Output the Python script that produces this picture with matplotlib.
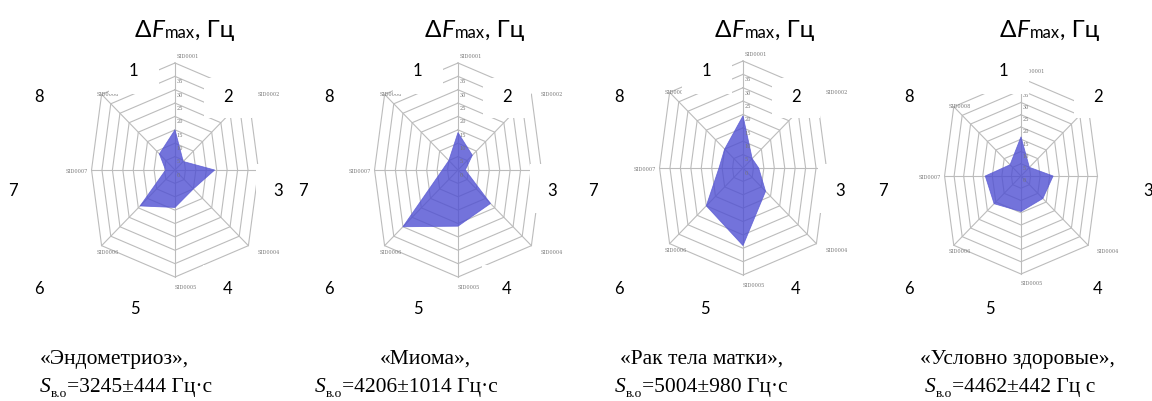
import numpy as np
import matplotlib
matplotlib.use("Agg")
import matplotlib.pyplot as plt
from matplotlib.patches import Rectangle

# ---------------- data ----------------
spoke_names = ["SID0001", "SID0002", "SID0003", "SID0004",
               "SID0005", "SID0006", "SID0007", "SID0008"]
spoke_numbers = ["1", "2", "3", "4", "5", "6", "7", "8"]
ring_values = [5, 10, 15, 20, 25, 30, 35, 40]
tick_labels = ["0", "5", "10", "15", "20", "25", "30", "35"]

group_names = ["«Эндометриоз»,", "«Миома»,", "«Рак тела матки»,", "«Условно здоровые»,"]
area_texts = ["=3245±444 Гц·с", "=4206±1014 Гц·с", "=5004±980 Гц·с", "=4462±442 Гц с"]

endometriosis = [15, 4.5, 19, 10, 14, 19, 4.5, 8.5]
myoma = [14, 7.8, 3.5, 17.7, 21, 30, 7.5, 5]
uterine_cancer = [19.5, 5, 7.5, 12.3, 29, 20, 11.5, 10]
healthy = [16, 5, 16.8, 13, 14.5, 16, 18.7, 6.5]
series = [endometriosis, myoma, uterine_cancer, healthy]

# ---------------- layout ----------------
W, H, DPI = 1152, 401, 100
fig = plt.figure(figsize=(W / DPI, H / DPI), dpi=DPI)
fig.patch.set_facecolor("white")

# panel centres (px from left, px from top) and px per value unit
panels = [(175, 170, 2.675), (458, 170, 2.675), (743, 168, 2.675), (1021, 176, 2.45)]

ang = np.deg2rad(np.arange(8) * 45.0)
x_stretch = np.array([1, 0.97, 0.78, 0.97, 1, 0.97, 0.78, 0.97])
ux = np.sin(ang) * x_stretch
uy = np.cos(ang)

GRID = "#bcbcbc"
FILL = "#5050d2"
E = 48.0

for (cx, cy, ppu), vals in zip(panels, series):
    half = E * ppu
    ax = fig.add_axes([(cx - half) / W, (H - cy - half) / H, 2 * half / W, 2 * half / H])
    ax.set_xlim(-E, E)
    ax.set_ylim(-E, E)
    ax.axis("off")
    for r in ring_values:
        ax.plot(np.append(ux, ux[0]) * r, np.append(uy, uy[0]) * r,
                color=GRID, lw=0.8, zorder=1)
    for k in range(8):
        ax.plot([0, ux[k] * ring_values[-1]], [0, uy[k] * ring_values[-1]],
                color=GRID, lw=0.8, zorder=1)
    v = np.asarray(vals, dtype=float)
    ax.fill(ux * v, uy * v, facecolor=FILL, alpha=0.8, edgecolor="#5a5ad4",
            lw=0.6, zorder=3)
    for i, lab in enumerate(tick_labels):
        ax.text(0.6, i * 5 - 2.0, lab, fontsize=3.6, color="#777777",
                family="DejaVu Serif", ha="left", va="center", zorder=4)
    R = ring_values[-1]
    vx, vy = ux * R, uy * R
    # spoke captions; the third one sits under the "3" text box
    label_pos = [
        (0.5, R + 2.5, "left"),
        (vx[1] + 3.5, vy[1], "left"),
        None,
        (vx[3] + 3.5, vy[3] - 2.5, "left"),
        (0.0, -R - 3.8, "left"),
        (vx[5] + 2.5, vy[5] - 2.5, "center"),
        (vx[6] - 1.5, vy[6] - 0.5, "right"),
        (vx[7] + 2.5, vy[7], "center"),
    ]
    for name, pos in zip(spoke_names, label_pos):
        if pos is None:
            continue
        lx, ly, ha = pos
        ax.text(lx, ly, name, fontsize=3.6, color="#7a7a7a", family="DejaVu Serif",
                ha=ha, va="center", zorder=4)

# ---------------- overlay (numbers, titles, captions) ----------------
ov = fig.add_axes([0, 0, 1, 1], zorder=10)
ov.set_xlim(0, W)
ov.set_ylim(H, 0)
ov.axis("off")
ov.patch.set_alpha(0)

number_pos = [
    [(133, 70), (228, 95), (278, 190), (228, 287), (135, 308), (39, 287), (13, 190), (39, 95)],
    [(417, 70), (507, 95), (552, 190), (507, 287), (418, 308), (329, 287), (303, 190), (329, 95)],
    [(706, 70), (796, 95), (840, 190), (796, 287), (705, 308), (619, 287), (593, 190), (619, 95)],
    [(1003, 70), (1098, 95), (1148, 190), (1098, 287), (990, 308), (909, 287), (883, 190), (909, 95)],
]
# white text-box backgrounds (left, right, top, bottom offsets around the digit)
box_extent = {
    "1": (-24, 26, -14, 24),
    "2": (-24, 24, -17, 23),
    "3": (-22, 16, -26, 23),
    "4": (-25, 25, -22, 13),
    "8": (-20, 22, -14, 16),
}
NUM_FONT = ["Lato", "Noto Sans"]
for pts in number_pos:
    for lab, (x, y) in zip(spoke_numbers, pts):
        if lab in box_extent:
            l, r, t, b = box_extent[lab]
            ov.add_patch(Rectangle((x + l, y + t), r - l, b - t, facecolor="white",
                                   edgecolor="none", zorder=1))
        ov.text(x, y, lab, fontsize=12, family=NUM_FONT, ha="center",
                va="center_baseline", color="black", zorder=2)


def text_run(x, y, pieces, family, size, sub_scale=0.62, sub_drop=0.0):
    """Draw a line made of pieces (text, style, is_sub) on one baseline."""
    first, style, _ = pieces[0]
    base = ov.text(x, y, first, fontsize=size, family=family, style=style,
                   ha="left", va="baseline", zorder=3)
    prev = base
    for s, st, is_sub in pieces[1:]:
        if is_sub:
            t = ov.annotate(s, xy=(1, 0), xycoords=prev, xytext=(0.3, -sub_drop),
                            textcoords="offset points", fontsize=size * sub_scale,
                            family=family, style=st, ha="left", va="bottom", zorder=3)
        else:
            t = ov.annotate(s, xy=(1, 0), xycoords=(prev, base), fontsize=size,
                            family=family, style=st, ha="left", va="bottom", zorder=3)
        prev = t


title_x = [135, 425, 715, 1000]
for tx in title_x:
    text_run(tx, 37, [("Δ", "normal", False), ("F", "italic", False),
                      ("max", "normal", True), (", Гц", "normal", False)],
             NUM_FONT, 17.5, sub_scale=0.68)

SERIF = ["Liberation Serif", "DejaVu Serif"]
line1_x = [40, 380, 620, 920]
line2_x = [40, 315, 615, 925]
for name, area, x1, x2 in zip(group_names, area_texts, line1_x, line2_x):
    ov.text(x1, 364, name, fontsize=15.5, family=SERIF, ha="left", va="baseline")
    text_run(x2, 392, [("S", "italic", False), ("в.о", "normal", True),
                       (area, "normal", False)], SERIF, 15.5, sub_drop=2.5)

fig.savefig("out.png", dpi=DPI, facecolor="white")
